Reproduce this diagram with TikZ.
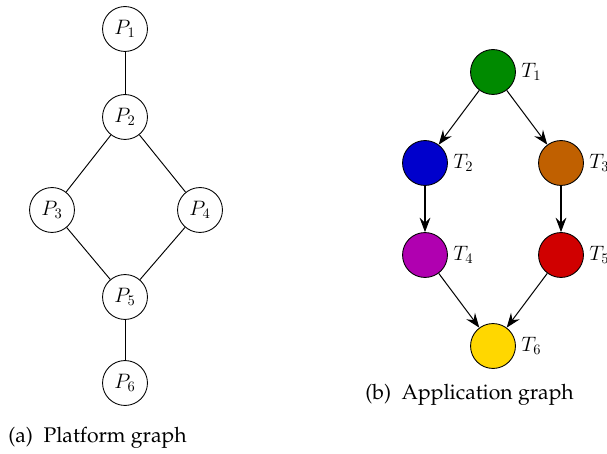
\documentclass[tikz,border=0pt]{standalone}
\usetikzlibrary{arrows.meta}
\newcommand\capfont{\fontencoding{OT1}\fontfamily{ppl}\fontsize{14.6}{17}\selectfont}
\definecolor{tgreen}{RGB}{0,138,0}
\definecolor{tblue}{RGB}{0,0,204}
\definecolor{tbrown}{RGB}{192,96,0}
\definecolor{tpurple}{RGB}{176,0,176}
\definecolor{tred}{RGB}{208,0,0}
\definecolor{tyellow}{RGB}{255,215,0}
\tikzset{
  pnode/.style={circle, draw, line width=0.6pt, minimum size=31pt, inner sep=0pt, fill=white, font=\Large},
  tnode/.style={circle, draw, line width=0.6pt, minimum size=31pt, inner sep=0pt, fill=#1},
  tlab/.style={label={[label distance=0.3pt, font=\Large]right:$T_{#1}$}},
  pedge/.style={line width=0.65pt},
  tedge/.style={line width=0.7pt, -{Stealth[length=10pt,width=7.5pt,inset=3.5pt]}},
  caption/.style={inner sep=0pt, font=\capfont}
}
\begin{document}
\begin{tikzpicture}[x=0.69pt, y=-0.69pt]
\useasboundingbox (0,0) rectangle (607,454);
% platform graph
\node[pnode] (p1) at (125,29) {$P_1$};
\node[pnode] (p2) at (125,117) {$P_2$};
\node[pnode] (p3) at (52,210) {$P_3$};
\node[pnode] (p4) at (200,210) {$P_4$};
\node[pnode] (p5) at (125,297) {$P_5$};
\node[pnode] (p6) at (125,383) {$P_6$};
\draw[pedge] (p1) -- (p2);
\draw[pedge] (p2) -- (p3);
\draw[pedge] (p2) -- (p4);
\draw[pedge] (p3) -- (p5);
\draw[pedge] (p4) -- (p5);
\draw[pedge] (p5) -- (p6);
\node[caption, anchor=west] (capa) at (8,438) {(a)\enspace Platform graph};
% application graph
\node[tnode=tgreen, tlab=1] (t1) at (493,72) {};
\node[tnode=tblue, tlab=2] (t2) at (425,163) {};
\node[tnode=tbrown, tlab=3] (t3) at (561,163) {};
\node[tnode=tpurple, tlab=4] (t4) at (425,255) {};
\node[tnode=tred, tlab=5] (t5) at (561,255) {};
\node[tnode=tyellow, tlab=6] (t6) at (493,346) {};
\draw[tedge] (t1) -- (t2);
\draw[tedge] (t1) -- (t3);
\draw[tedge] (t2) -- (t4);
\draw[tedge] (t3) -- (t5);
\draw[tedge] (t4) -- (t6);
\draw[tedge] (t5) -- (t6);
\node[caption, anchor=west] (capb) at (365,395) {(b)\enspace Application graph};
\end{tikzpicture}
\end{document}
